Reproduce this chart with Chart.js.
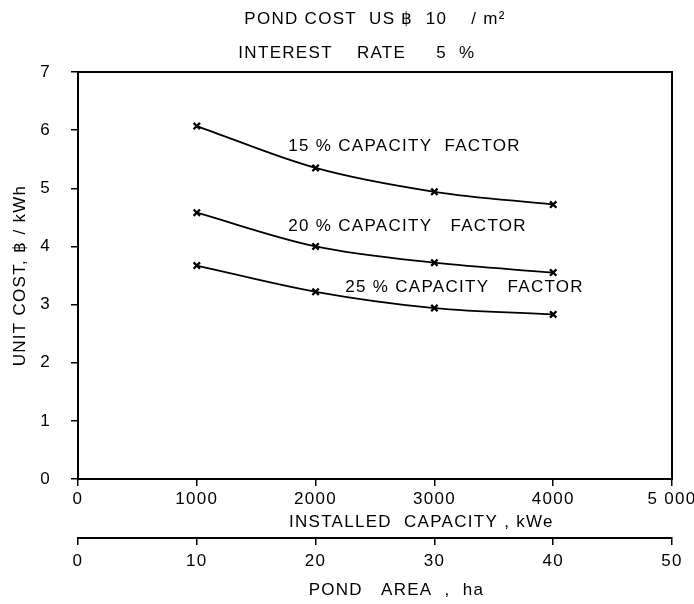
<!DOCTYPE html>
<html>
<head>
<meta charset="utf-8">
<script src="https://cdn.jsdelivr.net/npm/chart.js@4/dist/chart.umd.min.js"></script>
<style>
  html, body { margin: 0; padding: 0; background: #fff; }
  #wrap { width: 694px; height: 604px; }
</style>
</head>
<body>
<div id="wrap"><canvas id="c" width="694" height="604"></canvas></div>
<script>
// ---- data ----
const capacityKWe = [1000, 2000, 3000, 4000];
const cost15 = [6.07, 5.35, 4.94, 4.72];
const cost20 = [4.58, 4.00, 3.72, 3.55];
const cost25 = [3.67, 3.22, 2.94, 2.83];
const seriesNames = ['15 % CAPACITY  FACTOR', '20 % CAPACITY   FACTOR', '25 % CAPACITY   FACTOR'];
const titleLines = ['POND COST  US ฿  10    / m²', 'INTEREST    RATE     5  %      '];
const capacityTickLabels = ['0', '1000', '2000', '3000', '4000', '5 000'];
const areaTickLabels = ['0', '10', '20', '30', '40', '50'];
const costTickLabels = ['0', '1', '2', '3', '4', '5', '6', '7'];
const capacityAxisTitle = 'INSTALLED  CAPACITY , kWe';
const areaAxisTitle = 'POND   AREA  ,  ha';
const costAxisTitle = 'UNIT COST, ฿ / kWh';

const FONT = "'Liberation Sans', Arial, sans-serif";
const SIZE = 17;
const SPACING = '1.3px';

function pts(ys) { return capacityKWe.map((x, i) => ({ x: x, y: ys[i] })); }

function ds(label, ys) {
  return {
    label: label,
    data: pts(ys),
    showLine: true,
    borderColor: '#000',
    backgroundColor: '#000',
    borderWidth: 1.8,
    cubicInterpolationMode: 'monotone',
    pointStyle: 'crossRot',
    pointRadius: 4.5,
    pointBorderWidth: 2.3,
    pointBorderColor: '#000'
  };
}

// letter spacing for all canvas text (the reference lettering is widely spaced)
const spacingPlugin = {
  id: 'spacing',
  beforeInit(chart) { chart.ctx.letterSpacing = SPACING; },
  beforeUpdate(chart) { chart.ctx.letterSpacing = SPACING; },
  beforeDraw(chart) { chart.ctx.letterSpacing = SPACING; }
};

// frame around the plot area, series labels and the two bottom axis titles
const framePlugin = {
  id: 'frame',
  afterDraw(chart) {
    const { ctx, chartArea: a, scales } = chart;
    ctx.save();
    ctx.strokeStyle = '#000';
    ctx.lineWidth = 2;
    ctx.strokeRect(a.left, a.top, a.right - a.left, a.bottom - a.top);
    ctx.fillStyle = '#000';
    ctx.font = SIZE + 'px ' + FONT;
    ctx.letterSpacing = SPACING;
    ctx.textBaseline = 'middle';
    // series labels anchored in data units
    const anchors = [[1770, 5.73], [1770, 4.34], [2250, 3.30]];
    ctx.textAlign = 'left';
    seriesNames.forEach((n, i) => {
      ctx.fillText(n, scales.x.getPixelForValue(anchors[i][0]), scales.y.getPixelForValue(anchors[i][1]));
    });
    // axis titles (placed off-centre as in the reference)
    ctx.textAlign = 'center';
    ctx.fillText(capacityAxisTitle, scales.x.getPixelForValue(2890), scales.x.bottom - 16);
    ctx.fillText(areaAxisTitle, scales.x2.getPixelForValue(26.8), scales.x2.bottom - 14);
    ctx.restore();
  }
};

const axisCommon = {
  border: { display: true, color: '#000', width: 2 },
  grid: { drawOnChartArea: false, drawTicks: true, tickLength: 7, color: '#000', lineWidth: 1.5 },
};

new Chart(document.getElementById('c'), {
  type: 'scatter',
  data: {
    datasets: [ds(seriesNames[0], cost15), ds(seriesNames[1], cost20), ds(seriesNames[2], cost25)]
  },
  options: {
    responsive: false,
    animation: false,
    devicePixelRatio: 1,
    layout: { padding: { left: 0, right: 22, top: 0, bottom: 0 } },
    plugins: {
      legend: { display: false },
      tooltip: { enabled: false },
      title: {
        display: true,
        fullSize: false,
        text: titleLines,
        color: '#000',
        font: { family: FONT, size: SIZE, weight: 'normal', lineHeight: '34px' },
        padding: { top: 2, bottom: 2 }
      }
    },
    scales: {
      x: Object.assign({}, axisCommon, {
        type: 'linear', position: 'bottom', weight: 0,
        min: 0, max: 5000,
        afterFit: s => { s.height = 59; s.paddingRight = 0; s.paddingLeft = 0; },
        ticks: {
          stepSize: 1000, maxRotation: 0, autoSkip: false, padding: 3, color: '#000',
          font: { family: FONT, size: SIZE },
          callback: (v) => capacityTickLabels[Math.round(v / 1000)]
        },
        title: { display: false }
      }),
      x2: Object.assign({}, axisCommon, {
        type: 'linear', position: 'bottom', weight: 1,
        min: 0, max: 50,
        afterFit: s => { s.height = 66; s.paddingRight = 0; s.paddingLeft = 0; },
        ticks: {
          stepSize: 10, maxRotation: 0, autoSkip: false, padding: 6, color: '#000',
          font: { family: FONT, size: SIZE },
          callback: (v) => areaTickLabels[Math.round(v / 10)]
        },
        title: { display: false }
      }),
      y: Object.assign({}, axisCommon, {
        type: 'linear', position: 'left',
        min: 0, max: 7,
        afterFit: s => { s.width = 78; },
        ticks: {
          stepSize: 1, padding: 20, color: '#000',
          font: { family: FONT, size: SIZE },
          callback: (v) => costTickLabels[v]
        },
        title: {
          display: true, text: costAxisTitle, color: '#000',
          font: { family: FONT, size: SIZE }, padding: { top: 10, bottom: 0 }
        }
      })
    }
  },
  plugins: [spacingPlugin, framePlugin]
});
</script>
</body>
</html>
